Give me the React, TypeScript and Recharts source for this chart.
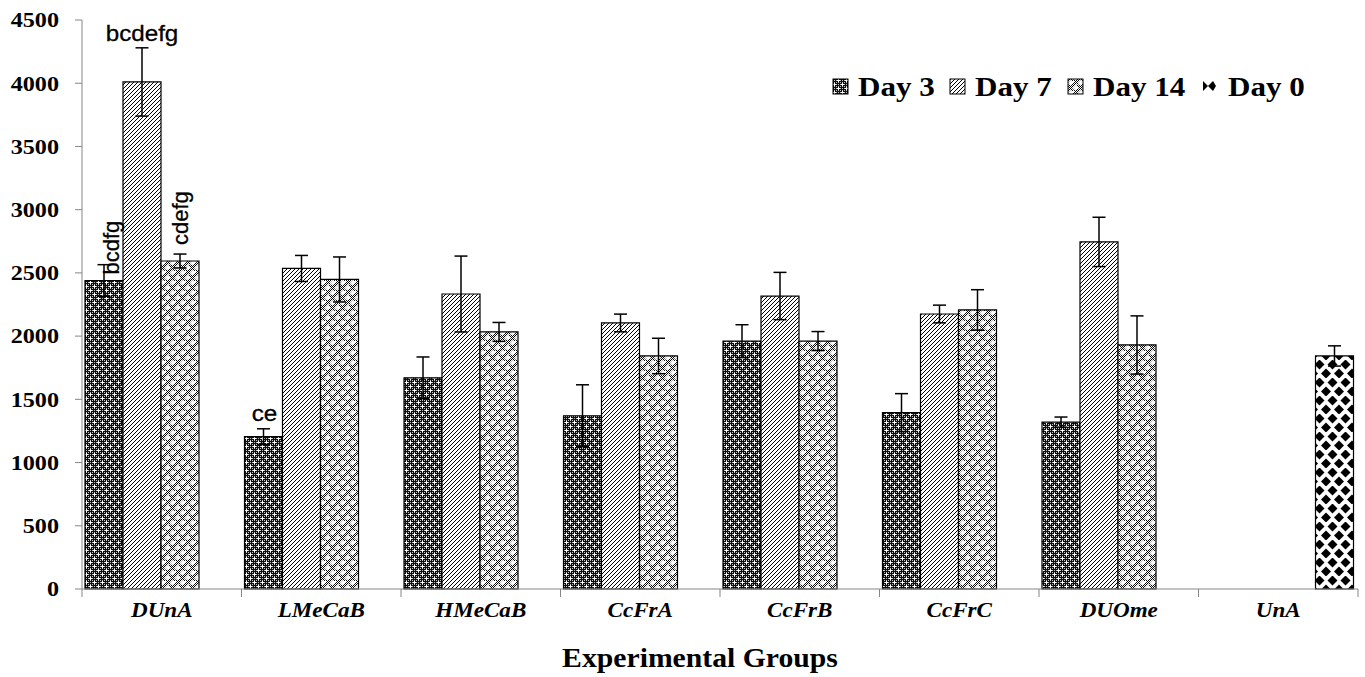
import React from "react";
import { BarChart, Bar, XAxis, YAxis, ErrorBar, LabelList, Label } from "recharts";

const groups = ["DUnA", "LMeCaB", "HMeCaB", "CcFrA", "CcFrB", "CcFrC", "DUOme", "UnA"];

const day3 = [2440, 1205, 1670, 1370, 1960, 1395, 1320, null];
const day3Err = [125, 62, 165, 245, 130, 150, 40, null];
const day7 = [4010, 2535, 2333, 2104, 2317, 2175, 2745, null];
const day7Err = [270, 103, 300, 70, 187, 70, 195, null];
const day14 = [2594, 2448, 2033, 1843, 1961, 2207, 1930, null];
const day14Err = [55, 178, 75, 140, 75, 160, 230, null];
const day0 = [null, null, null, null, null, null, null, 1843];
const day0Err = [null, null, null, null, null, null, null, 80];

const day3Letters = ["bcdfg", "ce", "", "", "", "", "", ""];
const day7Letters = ["bcdefg", "", "", "", "", "", "", ""];
const day14Letters = ["cdefg", "", "", "", "", "", "", ""];

const yTicks = [0, 500, 1000, 1500, 2000, 2500, 3000, 3500, 4000, 4500];
const seriesNames = ["Day 3", "Day 7", "Day 14", "Day 0"];

const data = groups.map((g, i) => ({
  group: g,
  d3: day3[i],
  e3: day3Err[i],
  l3: day3Letters[i],
  d7: day7[i],
  e7: day7Err[i],
  l7: day7Letters[i],
  d14: day14[i],
  e14: day14Err[i],
  l14: day14Letters[i],
  d0: day0[i],
  e0: day0Err[i],
}));

const SERIF = '"Liberation Serif", "Times New Roman", serif';
const SANS = '"Liberation Sans", Arial, sans-serif';
const AXIS = "#868686";

const PLOT_LEFT = 82;
const PLOT_RIGHT = 1358;
const BAND = (PLOT_RIGHT - PLOT_LEFT) / groups.length;

// where the significance letters sit, relative to the bar top
const letterPlacement: Record<string, { rotate: boolean; dx: number; dy: number }> = {
  "d3-0": { rotate: true, dx: 15, dy: -6 },
  "d3-1": { rotate: false, dx: 1, dy: -16 },
  "d7-0": { rotate: false, dx: 0, dy: -41 },
  "d14-0": { rotate: true, dx: 8, dy: -16 },
};

const makeLetters = (key: string) => (props: any) => {
  const { value, index } = props;
  if (!value) return null;
  const vb = props.viewBox || props;
  const x = Number(vb.x);
  const y = Number(vb.y);
  const w = Number(vb.width);
  const h = Number(vb.height);
  const top = Math.min(y, y + h);
  const cx = x + w / 2;
  const p = letterPlacement[`${key}-${index}`] || { rotate: false, dx: 0, dy: -10 };
  const px = cx + p.dx;
  const py = top + p.dy;
  if (p.rotate) {
    return (
      <text
        x={px}
        y={py}
        transform={`rotate(-90, ${px}, ${py})`}
        textAnchor="start"
        fontFamily={SANS}
        fontSize={22}
        stroke="#000"
        strokeWidth={0.3}
        fill="#000"
      >
        {value}
      </text>
    );
  }
  return (
    <text
      transform={`translate(${px},${py}) scale(1.1,1)`}
      textAnchor="middle"
      fontFamily={SANS}
      fontSize={22}
      stroke="#000"
      strokeWidth={0.3}
      fill="#000"
    >
      {value}
    </text>
  );
};

function XTick(props: any) {
  const { x, y, payload } = props;
  const idx = props.index ?? payload.index;
  return (
    <g>
      <line x1={x - BAND / 2} y1={y} x2={x - BAND / 2} y2={y + 8} stroke={AXIS} />
      {idx === groups.length - 1 && (
        <line x1={x + BAND / 2} y1={y} x2={x + BAND / 2} y2={y + 8} stroke={AXIS} />
      )}
      <text
        transform={`translate(${x},${y + 28}) scale(1.1,1)`}
        textAnchor="middle"
        fontFamily={SERIF}
        fontStyle="italic"
        fontWeight="bold"
        fontSize={21}
        fill="#000"
      >
        {payload.value}
      </text>
    </g>
  );
}

function YTick(props: any) {
  const { x, y, payload } = props;
  return (
    <text
      transform={`translate(${x},${y}) scale(1.15,1)`}
      dy="0.35em"
      textAnchor="end"
      fontFamily={SERIF}
      fontWeight="bold"
      fontSize={21}
      fill="#000"
    >
      {payload.value}
    </text>
  );
}

function AxisTitle(props: any) {
  const vb = props.viewBox;
  const cx = vb.x + vb.width / 2 - 20;
  const cy = vb.y + 78;
  return (
    <text
      transform={`translate(${cx},${cy}) scale(1.1,1)`}
      textAnchor="middle"
      fontFamily={SERIF}
      fontWeight="bold"
      fontSize={27}
      fill="#000"
    >
      Experimental Groups
    </text>
  );
}

function Patterns() {
  return (
    <svg width={0} height={0} style={{ position: "absolute" }}>
      <defs>
        <pattern id="fine" width="2" height="2" patternUnits="userSpaceOnUse">
          <rect width="2" height="2" fill="#000" />
          <rect width="1" height="1" fill="#fff" />
        </pattern>
        <pattern id="chk" width="2" height="2" patternUnits="userSpaceOnUse">
          <rect width="2" height="2" fill="#fff" />
          <rect width="1" height="1" fill="#000" />
          <rect x="1" y="1" width="1" height="1" fill="#000" />
        </pattern>
        <pattern id="p3" width="8" height="8" patternUnits="userSpaceOnUse">
          <rect width="8" height="8" fill="#333" />
          <rect width="8" height="8" fill="url(#fine)" opacity="0.7" />
          <rect x="1" y="2" width="3" height="1" fill="#fff" />
          <rect x="2" y="1" width="1" height="3" fill="#fff" />
          <rect x="5" y="6" width="3" height="1" fill="#fff" />
          <rect x="6" y="5" width="1" height="3" fill="#fff" />
        </pattern>
        <pattern id="p7" width="4" height="4" patternUnits="userSpaceOnUse">
          <rect width="4" height="4" fill="#fff" />
          <path d="M0,4 L4,0 M-1,1 L1,-1 M3,5 L5,3" stroke="#000" strokeWidth="1" />
        </pattern>
        <pattern id="p14" width="10" height="10" patternUnits="userSpaceOnUse">
          <rect width="10" height="10" fill="url(#chk)" />
          <path d="M0,4 L3,1 L3,4 L6,1 M5,9 L8,6 L8,9 L11,6 M-1,9 L0,8" stroke="#fff" strokeWidth="1.8" fill="none" />
        </pattern>
        <pattern id="p0" width="13" height="18" patternUnits="userSpaceOnUse">
          <rect width="13" height="18" fill="#fff" />
          <polygon points="6.5,-0.5 11.5,4.5 6.5,9.5 1.5,4.5" fill="#000" />
          <polygon points="0,8.5 5,13.5 0,18.5 -5,13.5" fill="#000" />
          <polygon points="13,8.5 18,13.5 13,18.5 8,13.5" fill="#000" />
        </pattern>
      </defs>
    </svg>
  );
}

function LegendBox() {
  const fills = ["url(#p3)", "url(#p7)", "url(#p14)", null];
  const iconX = [5, 122, 240, 375];
  return (
    <svg
      width={520}
      height={36}
      style={{ position: "absolute", left: 828, top: 70 }}
    >
      {seriesNames.map((name, i) => (
        <g key={name}>
          {fills[i] ? (
            <rect x={iconX[i]} y={9} width={15} height={15} fill={fills[i] as string} stroke="#000" strokeWidth={1} />
          ) : (
            <g>
              <polygon points={`${iconX[i]},11 ${iconX[i] + 5},16 ${iconX[i]},21`} fill="#000" />
              <polygon points={`${iconX[i] + 10},11 ${iconX[i] + 5},16 ${iconX[i] + 10},21 ${iconX[i] + 13},16`} fill="#000" />
            </g>
          )}
          <text
            transform={`translate(${iconX[i] + 25},26) scale(1.11,1)`}
            fontFamily={SERIF}
            fontWeight="bold"
            fontSize={28}
            fill="#000"
          >
            {name}
          </text>
        </g>
      ))}
    </svg>
  );
}

export default function App() {
  return (
    <div style={{ position: "absolute", left: 0, top: 0, width: 1365, height: 677, background: "#fff" }}>
      <Patterns />
      <BarChart
        width={1365}
        height={677}
        data={data}
        margin={{ top: 20, right: 1365 - PLOT_RIGHT, bottom: 0, left: 0 }}
        barCategoryGap={3}
        barGap={0}
      >
        <XAxis
          dataKey="group"
          height={88}
          stroke={AXIS}
          tickLine={false}
          tickSize={0}
          tickMargin={0}
          tick={<XTick />}
          interval={0}
        >
          <Label content={<AxisTitle />} />
        </XAxis>
        <YAxis
          width={PLOT_LEFT}
          domain={[0, 4500]}
          ticks={yTicks}
          interval={0}
          stroke={AXIS}
          tickSize={7}
          tickMargin={16}
          tick={<YTick />}
        />
        <Bar dataKey="d3" name={seriesNames[0]} fill="url(#p3)" stroke="#000" strokeWidth={1.2} isAnimationActive={false}>
          <ErrorBar dataKey="e3" width={6.5} stroke="#000" strokeWidth={1.5} direction="y" />
          <LabelList dataKey="l3" content={makeLetters("d3")} />
        </Bar>
        <Bar dataKey="d7" name={seriesNames[1]} fill="url(#p7)" stroke="#000" strokeWidth={1.2} isAnimationActive={false}>
          <ErrorBar dataKey="e7" width={6.5} stroke="#000" strokeWidth={1.5} direction="y" />
          <LabelList dataKey="l7" content={makeLetters("d7")} />
        </Bar>
        <Bar dataKey="d14" name={seriesNames[2]} fill="url(#p14)" stroke="#000" strokeWidth={1.2} isAnimationActive={false}>
          <ErrorBar dataKey="e14" width={6.5} stroke="#000" strokeWidth={1.5} direction="y" />
          <LabelList dataKey="l14" content={makeLetters("d14")} />
        </Bar>
        <Bar dataKey="d0" name={seriesNames[3]} fill="url(#p0)" stroke="#000" strokeWidth={1.2} isAnimationActive={false}>
          <ErrorBar dataKey="e0" width={6.5} stroke="#000" strokeWidth={1.5} direction="y" />
        </Bar>
      </BarChart>
      <LegendBox />
    </div>
  );
}
